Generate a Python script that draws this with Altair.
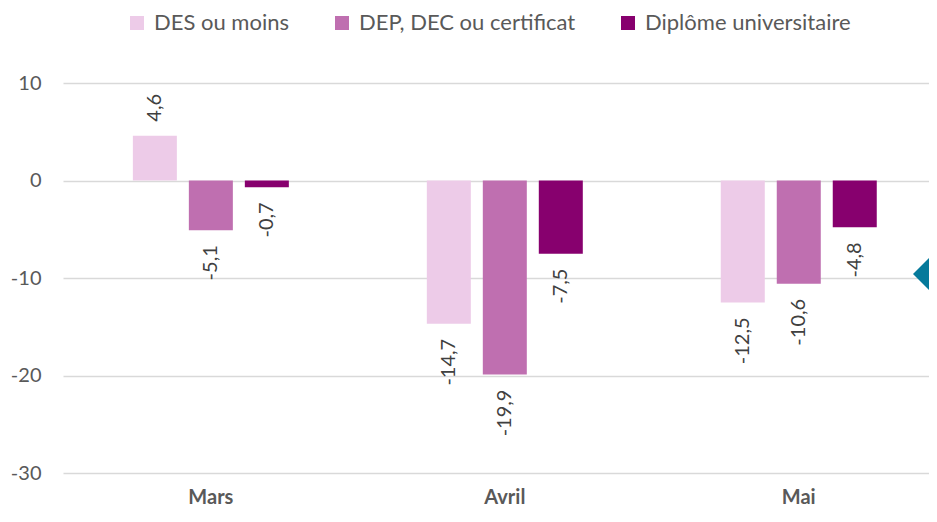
import altair as alt
import pandas as pd

months = ["Mars", "Avril", "Mai"]
groups = ["DES ou moins", "DEP, DEC ou certificat", "Diplôme universitaire"]
des = [4.6, -14.7, -12.5]
dep = [-5.1, -19.9, -10.6]
dipl = [-0.7, -7.5, -4.8]
colors = ["#EDCBE8", "#BF6FB0", "#87006E"]
y_ticks = [-30, -20, -10, 0, 10]
marker_value = [-9.6]

rows = []
for g, vals in zip(groups, [des, dep, dipl]):
    for m, v in zip(months, vals):
        rows.append({"mois": m, "groupe": g, "valeur": v,
                     "label": f"{v:.1f}".replace(".", ",")})
df = pd.DataFrame(rows)
marker_df = pd.DataFrame({"valeur": marker_value})

FONT = "Lato"
W = 866
H = 390
TOP = 75

x_enc = alt.X("mois:N", sort=months,
              scale=alt.Scale(paddingInner=0.4286, paddingOuter=0.1873, align=0.58),
              axis=alt.Axis(title=None, labelAngle=0, domain=False, ticks=False, grid=False,
                            labelFontWeight="bold", labelFontSize=20,
                            labelColor="#595959", labelPadding=14, labelFont=FONT))
xo_enc = alt.XOffset("groupe:N", sort=groups,
                     scale=alt.Scale(paddingInner=0.214, paddingOuter=0.107))
y_enc = alt.Y("valeur:Q", scale=alt.Scale(domain=[-30, 10], nice=False),
              axis=alt.Axis(values=y_ticks, title=None, domain=False, ticks=False,
                            gridColor="#D9D9D9", gridWidth=1.5, labelFontSize=20,
                            labelColor="#595959", labelPadding=22, labelFont=FONT,
                            labelExpr="'' + datum.value"))

base = alt.Chart(df)

bars = base.mark_bar().encode(
    x=x_enc, xOffset=xo_enc, y=y_enc,
    color=alt.Color("groupe:N", sort=groups,
                    scale=alt.Scale(domain=groups, range=colors),
                    legend=alt.Legend(orient="none", legendX=63, legendY=4 - TOP,
                                      direction="horizontal", title=None,
                                      symbolType="square", symbolSize=196,
                                      symbolStrokeWidth=0, labelLimit=0,
                                      labelFontSize=22, labelColor="#595959",
                                      labelFont=FONT, columnPadding=41,
                                      labelOffset=6, padding=0)),
)

pos_labels = base.transform_filter("datum.valeur >= 0").mark_text(
    angle=270, align="left", baseline="middle", dx=14,
    fontSize=20, color="#404040", font=FONT
).encode(x=x_enc, xOffset=xo_enc, y=y_enc, text="label:N")

neg_labels = base.transform_filter("datum.valeur < 0").mark_text(
    angle=270, align="right", baseline="middle", dx=-15,
    fontSize=20, color="#404040", font=FONT
).encode(x=x_enc, xOffset=xo_enc, y=y_enc, text="label:N")

marker = alt.Chart(marker_df).mark_point(
    shape="diamond", filled=True, size=4096, color="#057A9B", opacity=1, clip=True
).encode(x=alt.value(W + 16), y=alt.Y("valeur:Q"))

chart = alt.layer(bars, pos_labels, neg_labels, marker).properties(
    width=W, height=H,
    autosize=alt.AutoSizeParams(type="none"),
    padding={"left": 55, "top": TOP, "right": 0, "bottom": 39},
).configure(font=FONT).configure_view(stroke=None)

chart.save("out.html", embed_options={"renderer": "svg", "actions": False})
